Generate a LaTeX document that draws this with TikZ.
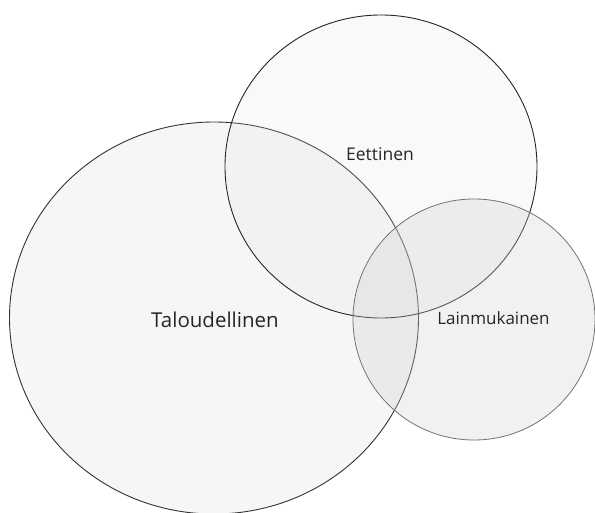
\documentclass[tikz,border=0pt]{standalone}
\usepackage{fontspec}
\setmainfont{Open Sans}
\begin{document}
\begin{tikzpicture}[x=1pt,y=-1pt,
  lbl/.style={text=black!85, inner sep=0pt, anchor=base},
  bigc/.style={draw=black!80, line width=0.9pt, fill={rgb,255:red,221;green,226;blue,234}, fill opacity=0.3},
  ethc/.style={draw=black!85, line width=0.9pt, fill=black!12, fill opacity=0.17},
  lawc/.style={draw=black!55, line width=0.8pt, fill=black!18, fill opacity=0.3}]
\useasboundingbox (0,0) rectangle (595,513);
\fill[white] (0,0) rectangle (595,513);
\draw[bigc] (214,318) ellipse [x radius=204.5, y radius=196];
\draw[ethc] (381,166.5) ellipse [x radius=156, y radius=151.5];
\draw[lawc] (474,319.5) ellipse [x radius=121, y radius=120.5];
\node[lbl, font=\fontsize{20.5}{24}\selectfont] (tal) at (215,327) {Taloudellinen};
\node[lbl, font=\fontsize{17.5}{21}\selectfont] (eet) at (380,161) {Eettinen};
\node[lbl, font=\fontsize{17}{20}\selectfont] (lai) at (493.5,325) {Lainmukainen};
\end{tikzpicture}
\end{document}
